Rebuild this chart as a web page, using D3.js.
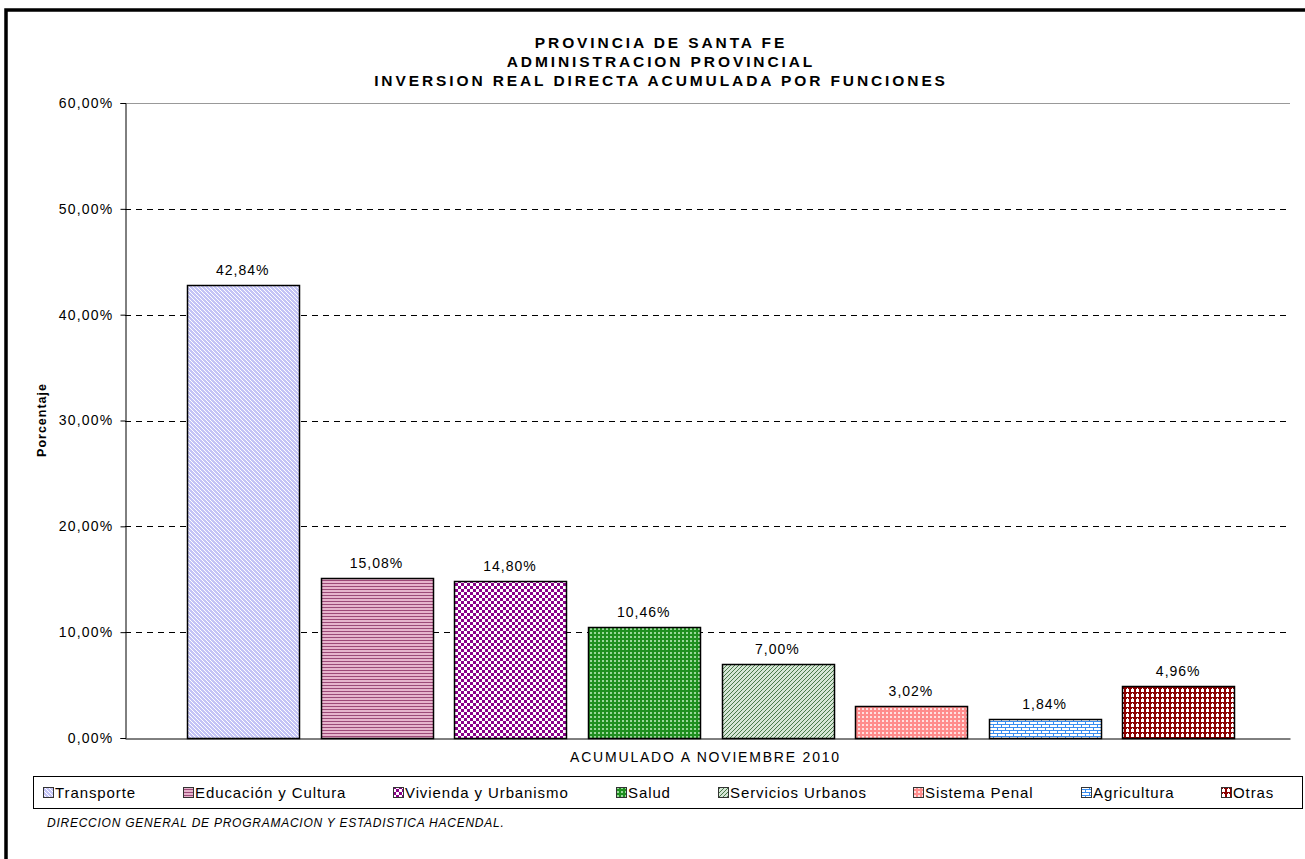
<head>
    <meta charset="utf-8">
    <style>
        body { margin: 0; background: #fff; }
        text { font-family: "Liberation Sans", Arial, sans-serif; fill: #000; }
        .tit { font-size: 15.5px; font-weight: bold; letter-spacing: 2.9px; }
        .tick { font-size: 14px; letter-spacing: 1.2px; }
        .lab { font-size: 14px; letter-spacing: 1px; }
        .cat { font-size: 14px; letter-spacing: 1.8px; }
        .leg { font-size: 15px; letter-spacing: 0.9px; }
    </style>
    <script src="https://d3js.org/d3.v7.min.js"></script>
</head>
<body>
<div id="chart"></div>
<script>

    // datos
    var series = ["Transporte", "Educación y Cultura", "Vivienda y Urbanismo", "Salud",
                  "Servicios Urbanos", "Sistema Penal", "Agricultura", "Otras"];
    var values = [42.84, 15.08, 14.80, 10.46, 7.00, 3.02, 1.84, 4.96];
    var category = ["ACUMULADO A NOVIEMBRE 2010"];
    var yTicks = [0, 10, 20, 30, 40, 50, 60];
    var titleLines = ["PROVINCIA DE SANTA FE", "ADMINISTRACION PROVINCIAL",
                      "INVERSION REAL DIRECTA ACUMULADA POR FUNCIONES"];

    var W = 1305, H = 859;
    var margin = {top: 103, left: 125, right: 15, bottom: 121};
    var width = W - margin.left - margin.right,
        height = H - margin.top - margin.bottom;
    var group = {left: 62, right: 56};

    var svg = d3.select("#chart").append("svg")
        .attr("width", W)
        .attr("height", H);

    var defs = svg.append("defs");

    // tramas tipo Excel
    function pat(id, w, h, bg, draw) {
        var p = defs.append("pattern")
            .attr("id", id)
            .attr("patternUnits", "userSpaceOnUse")
            .attr("width", w).attr("height", h);
        p.append("rect").attr("width", w).attr("height", h).attr("fill", bg);
        draw(p);
    }
    function px(p, x, y, w, h, c) {
        p.append("rect").attr("x", x).attr("y", y).attr("width", w).attr("height", h).attr("fill", c);
    }

    pat("p0", 4, 4, "#c4c4f6", function(p) {
        px(p, 0, 0, 1, 1, "#fff"); px(p, 1, 1, 1, 1, "#fff"); px(p, 2, 2, 1, 1, "#fff"); px(p, 3, 3, 1, 1, "#fff");
    });
    pat("p1", 3, 3, "#e6b4cc", function(p) {
        px(p, 0, 0, 3, 1, "#9c4a78");
    });
    pat("p2", 6, 6, "#fff", function(p) {
        px(p, 0, 0, 3, 3, "#880088"); px(p, 3, 3, 3, 3, "#880088");
    });
    pat("p3", 4, 4, "#1f8f1f", function(p) {
        px(p, 1, 1, 2, 2, "#9ad89a");
    });
    pat("p4", 4, 4, "#d6e6d6", function(p) {
        px(p, 3, 0, 1, 1, "#4a7a4a"); px(p, 2, 1, 1, 1, "#4a7a4a"); px(p, 1, 2, 1, 1, "#4a7a4a"); px(p, 0, 3, 1, 1, "#4a7a4a");
    });
    pat("p5", 4, 4, "#ff8c8c", function(p) {
        px(p, 1, 1, 2, 2, "#ffe0e0");
    });
    pat("p6", 8, 6, "#fff", function(p) {
        px(p, 0, 0, 8, 1, "#3a8ef0"); px(p, 0, 3, 8, 1, "#3a8ef0");
        px(p, 0, 0, 1, 3, "#3a8ef0"); px(p, 4, 3, 1, 3, "#3a8ef0");
    });
    pat("p7", 5, 5, "#8c0000", function(p) {
        px(p, 1, 1, 3, 3, "#fff"); px(p, 2, 0, 1, 1, "#fff");
    });

    // marco
    svg.append("rect")
        .attr("x", 6).attr("y", 10)
        .attr("width", W + 20).attr("height", H + 20)
        .attr("fill", "none").attr("stroke", "#000").attr("stroke-width", 3.5);

    var focus = svg.append("g")
        .attr("transform", "translate(" + margin.left + "," + margin.top + ")");

    var y = d3.scaleLinear().domain([0, 60]).range([height, 0]);
    var x0 = d3.scaleBand().domain(category).range([0, width]);
    var x = d3.scaleBand().domain(series).range([group.left, width - group.right])
        .paddingInner(0.165).paddingOuter(0);

    // grilla
    focus.selectAll(".grid").data(yTicks.filter(function(d) { return d > 0 && d < 60; }))
        .enter().append("line")
        .attr("x1", 0).attr("x2", width)
        .attr("y1", function(d) { return Math.round(y(d)) + 0.5; })
        .attr("y2", function(d) { return Math.round(y(d)) + 0.5; })
        .attr("stroke", "#000").attr("stroke-dasharray", "6,5");
    focus.append("line")
        .attr("x1", 0).attr("x2", width)
        .attr("y1", Math.round(y(60)) + 0.5).attr("y2", Math.round(y(60)) + 0.5)
        .attr("stroke", "#999");

    var fmt = function(d) { return d3.format(".2f")(d).replace(".", ",") + "%"; };

    var yx = focus.append("g")
        .attr("transform", "translate(0.5,0)")
        .call(d3.axisLeft(y).tickValues(yTicks).tickSize(5).tickPadding(7).tickFormat(fmt));
    yx.selectAll("text").attr("class", "tick");

    var xx = focus.append("g")
        .attr("transform", "translate(0," + (height + 0.5) + ")")
        .call(d3.axisBottom(x0).tickSize(0).tickPadding(14));
    xx.selectAll("text").attr("class", "cat").attr("dx", -2);

    focus.selectAll(".domain").attr("stroke", "#000");

    // barras
    focus.selectAll(".bar").data(values).enter().append("rect")
        .attr("x", function(d, i) { return Math.round(x(series[i])) + 0.5; })
        .attr("y", function(d) { return Math.round(y(d)) + 0.5; })
        .attr("width", Math.round(x.bandwidth()))
        .attr("height", function(d) { return Math.round(height - y(d)); })
        .attr("fill", function(d, i) { return "url(#p" + i + ")"; })
        .attr("stroke", "#000").attr("stroke-width", 1.5);

    focus.selectAll(".val").data(values).enter().append("text")
        .attr("class", "lab")
        .attr("text-anchor", "middle")
        .attr("x", function(d, i) { return x(series[i]) + x.bandwidth() / 2; })
        .attr("y", function(d) { return y(d) - 10; })
        .text(fmt);

    // titulos
    svg.selectAll(".tl").data(titleLines).enter().append("text")
        .attr("class", "tit")
        .attr("text-anchor", "middle")
        .attr("x", 661)
        .attr("y", function(d, i) { return 48 + i * 19; })
        .text(function(d) { return d; });

    svg.append("text")
        .attr("transform", "translate(46,420) rotate(-90)")
        .attr("text-anchor", "middle")
        .style("font-size", "12.5px").style("font-weight", "bold").style("letter-spacing", "1px")
        .text("Porcentaje");

    // leyenda
    svg.append("rect")
        .attr("x", 33.5).attr("y", 776.5).attr("width", 1269).attr("height", 32)
        .attr("fill", "#fff").attr("stroke", "#000");

    var leg = svg.append("g");
    var items = leg.selectAll(".li").data(series).enter().append("g");
    items.append("rect")
        .attr("x", 0.5).attr("y", -10.5).attr("width", 10).attr("height", 10)
        .attr("fill", function(d, i) { return "url(#p" + i + ")"; })
        .attr("stroke", "#333");
    items.append("text")
        .attr("class", "leg")
        .attr("x", 12).attr("y", 0)
        .text(function(d) { return d; });

    var widths = [];
    items.each(function() { widths.push(this.getBBox().width); });
    var x1 = 43, x2 = 1274;
    var gap = (x2 - x1 - d3.sum(widths)) / (series.length - 1);
    var cx = x1;
    items.attr("transform", function(d, i) {
        var t = "translate(" + Math.round(cx) + ",798)";
        cx += widths[i] + gap;
        return t;
    });

    svg.append("text")
        .attr("x", 47).attr("y", 827)
        .style("font-size", "12px").style("font-style", "italic").style("letter-spacing", "0.75px")
        .text("DIRECCION GENERAL DE PROGRAMACION Y ESTADISTICA HACENDAL.");

</script>
</body>
